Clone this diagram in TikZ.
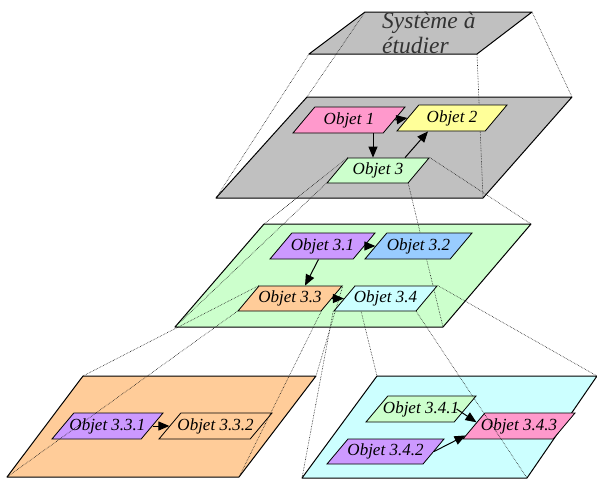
\documentclass[tikz,border=0pt]{standalone}
\usepackage{fontspec}
\setmainfont{Liberation Serif}
\usetikzlibrary{shapes.geometric,arrows.meta}
\pgfdeclarelayer{back}
\pgfdeclarelayer{mid}
\pgfsetlayers{back,mid,main}
\definecolor{gris}{HTML}{C0C0C0}
\definecolor{rose}{HTML}{FF99CC}
\definecolor{jaune}{HTML}{FFFF99}
\definecolor{vertclair}{HTML}{CCFFCC}
\definecolor{mauve}{HTML}{CC99FF}
\definecolor{bleuclair}{HTML}{99CCFF}
\definecolor{peche}{HTML}{FFCC99}
\definecolor{cyanclair}{HTML}{CCFFFF}
\newcommand{\nomobj}[1]{
	\makebox[0pt]{#1}
}

\begin{document}
\begin{tikzpicture}[x=1pt,y=-1pt,
		plan/.style={draw=black,line width=1pt,line join=round},
		obj/.style={trapezium,trapezium left angle=50,trapezium right angle=130,trapezium stretches body,draw=black,line width=0.8pt,text height=17pt,text depth=9pt,minimum width=107pt,inner sep=0pt,font=\itshape\fontsize{17}{17}\selectfont},
		bas/.style={text height=16.5pt,text depth=8.5pt},
		fl/.style={line width=1pt,-{Triangle[length=11pt,width=9pt]}},
		proj/.style={densely dotted,line width=0.6pt,black!90}]
		\useasboundingbox (0,0) rectangle (597,480);
		% les plans
		\begin{pgfonlayer}{back}
		\filldraw[plan,fill=gris] (309,54) coordinate (p1a) -- (365,12) coordinate (p1b) -- (532,12) coordinate (p1c) -- (477,54) coordinate (p1d) -- cycle;
		\filldraw[plan,fill=gris] (216,198) coordinate (p2a) -- (307,97) coordinate (p2b) -- (572,97) coordinate (p2c) -- (483,198) coordinate (p2d) -- cycle;
		\filldraw[plan,fill=vertclair] (175,327) coordinate (p3a) -- (264,224) coordinate (p3b) -- (531,224) coordinate (p3c) -- (443,327) coordinate (p3d) -- cycle;
		\filldraw[plan,fill=peche] (7,477) coordinate (p4a) -- (83,376) coordinate (p4b) -- (316,376) coordinate (p4c) -- (239,477) coordinate (p4d) -- cycle;
		\filldraw[plan,fill=cyanclair] (302,478) coordinate (p5a) -- (377,376) coordinate (p5b) -- (597,376) coordinate (p5c) -- (527,478) coordinate (p5d) -- cycle;
		\node[obj,fill=mauve,minimum width=111pt] (o331) at (107.5,426) {\nomobj{Objet 3.3.1}};
		\node[obj,fill=peche,minimum width=113pt] (o332) at (215.5,426) {\nomobj{Objet 3.3.2}};
		\draw[fl] (o331.east) -- (o332.west);
		\node[obj,fill=vertclair,minimum width=110pt] (o341) at (421,409) {\nomobj{Objet 3.4.1}};
		\node[obj,bas,fill=mauve,minimum width=117pt] (o342) at (385.5,451.5) {\nomobj{Objet 3.4.2}};
		\node[obj,fill=rose,minimum width=112pt] (o343) at (519,426) {\nomobj{Objet 3.4.3}};
		\draw[fl] ([xshift=-9pt]o341.east) -- (o343.175);
		\draw[fl] (o342.east) -- (o343.190);
		\end{pgfonlayer}
		\node[anchor=north west,inner sep=0pt,align=left,text=black!80,font=\itshape\fontsize{23.5}{25}\selectfont] (sys) at (382,12) {Système à\\étudier};
		% plan 2
		\node[obj,fill=rose,minimum width=112pt] (o1) at (349,120) {\nomobj{Objet 1}};
		\node[obj,fill=jaune,minimum width=110pt] (o2) at (452,118) {\nomobj{Objet 2}};
		\node[obj,bas,fill=vertclair,minimum width=102pt] (o3) at (378,170.5) {\nomobj{Objet 3}};
		\draw[fl] (o1.east) -- (o2.west);
		\draw[fl] ([xshift=-5pt]o3.north |- o1.south) -- ([xshift=-5pt]o3.north);
		\draw[fl] ([xshift=27pt]o3.north) -- ([xshift=-24pt]o2.south);
		% plan 3
		\node[obj,fill=mauve,minimum width=105pt] (o31) at (322.5,246) {\nomobj{Objet 3.1}};
		\node[obj,fill=bleuclair,minimum width=107pt] (o32) at (418.5,246) {\nomobj{Objet 3.2}};
		\node[obj,bas,fill=peche,minimum width=104pt] (o33) at (290,298.5) {\nomobj{Objet 3.3}};
		\node[obj,bas,fill=cyanclair,minimum width=103pt] (o34) at (385.5,298.5) {\nomobj{Objet 3.4}};
		\draw[fl] (o31.east) -- (o32.west);
		\draw[fl] ([xshift=-4pt]o31.south) -- ([xshift=15pt]o33.north);
		\draw[fl] (o33.east) -- (o34.west);
		% projections
		\begin{pgfonlayer}{mid}
		\draw[proj] (p1a) -- (p2a);
		\draw[proj] (p1b) -- (p2b);
		\draw[proj] (p1c) -- (p2c);
		\draw[proj] (p1d) -- (p2d);
		\draw[proj] (o3.bottom left corner) -- (p3a);
		\draw[proj] (o3.top left corner) -- (p3b);
		\draw[proj] (o3.top right corner) -- (p3c);
		\draw[proj] (o3.bottom right corner) -- (p3d);
		\draw[proj] (o33.bottom left corner) -- (p4a);
		\draw[proj] (o33.top left corner) -- (p4b);
		\draw[proj] (o33.top right corner) -- (p4c);
		\draw[proj] (o33.bottom right corner) -- (p4d);
		\draw[proj] (o34.bottom left corner) -- (p5a);
		\draw[proj] (o34.top left corner) -- (p5b);
		\draw[proj] (o34.top right corner) -- (p5c);
		\draw[proj] (o34.bottom right corner) -- (p5d);
		\end{pgfonlayer}
	\end{tikzpicture}
\end{document}
